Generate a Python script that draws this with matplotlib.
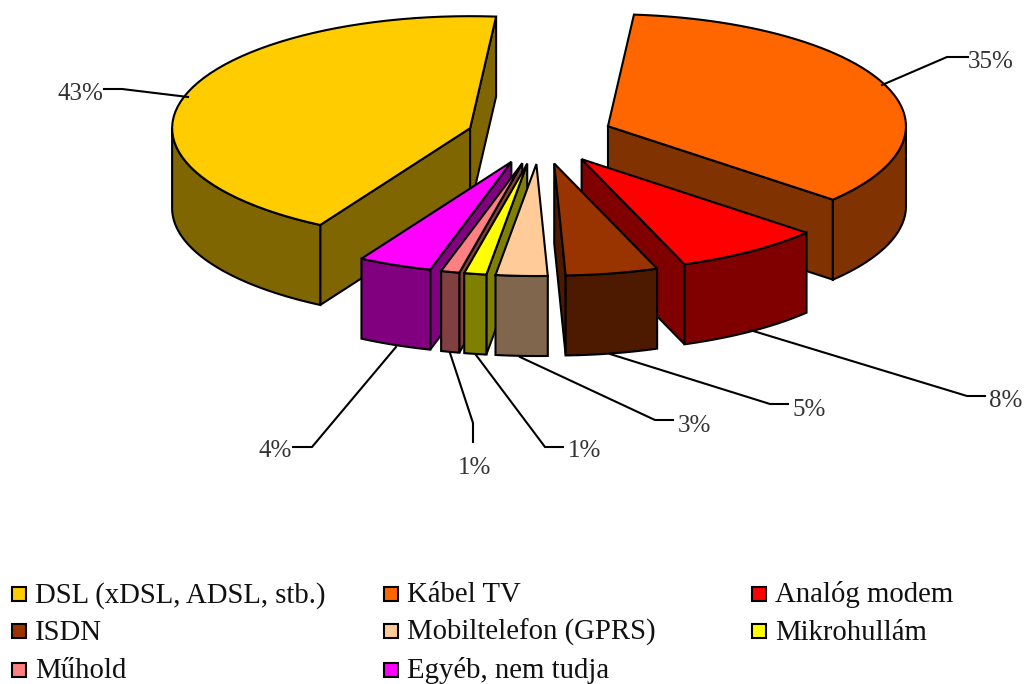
import numpy as np
import matplotlib
matplotlib.use("Agg")
import matplotlib.pyplot as plt
from matplotlib.patches import Polygon, Rectangle

categories = ["DSL (xDSL, ADSL, stb.)", "Kábel TV", "Analóg modem", "ISDN",
              "Mobiltelefon (GPRS)", "Mikrohullám", "Műhold", "Egyéb, nem tudja"]
values = [43, 35, 8, 5, 2.8, 1.2, 1.0, 4]
top_colors = ["#FFCC00", "#FF6600", "#FF0000", "#993300",
              "#FFCC99", "#FFFF00", "#FF8080", "#FF00FF"]
side_colors = ["#806600", "#803300", "#800000", "#4D1A00",
               "#80664D", "#808000", "#804040", "#800080"]

# leader lines, in picture pixels: start, elbow, end
leaders = [
    [(188, 97), (122, 89), (104, 89)],
    [(882, 85), (947, 57), (968, 57)],
    [(750, 330), (967, 396), (985, 396)],
    [(610, 354), (770, 404), (788, 404)],
    [(520, 357), (655, 420), (673, 420)],
    [(476, 355), (545, 447), (563, 447)],
    [(450, 353), (473, 423), (473, 442)],
    [(396, 347), (312, 447), (293, 447)],
]
# label centre x and baseline y
label_pos = [(80, 100), (991, 68), (1006, 407), (809, 416),
             (694, 432), (585, 457), (475, 474), (275, 457)]

CX, CY = 540, 136.5
RX, RY = 298, 112
DEPTH = 80
EXPLODE = 0.246
START = -149.8
LW = 1.5

plt.rcParams['font.family'] = ['Liberation Serif', 'DejaVu Sans']


def pt(t, ox, oy):
    # t is in degrees, clockwise from the top of the pie
    r = np.radians(t)
    return ox + RX * np.sin(r), oy - RY * np.cos(r)


def arc(t0, t1, ox, oy):
    ts = np.linspace(t0, t1, 60)
    return [pt(t, ox, oy) for t in ts]


def shift(points):
    return [(x, y + DEPTH) for x, y in points]


def draw_wedge(ax, t0, t1, top, side):
    mid = np.radians((t0 + t1) / 2)
    ox = CX + EXPLODE * RX * np.sin(mid)
    oy = CY - EXPLODE * RY * np.cos(mid)

    # radial faces, only those turned towards the viewer
    for t, normal in ((t0, t0 - 90), (t1, t1 + 90)):
        if np.cos(np.radians(normal)) < 0:
            edge = [(ox, oy), pt(t, ox, oy)]
            ax.add_patch(Polygon(edge + shift(edge)[::-1], fc=side, ec="black", lw=LW))

    # outer wall, front half of the ellipse only
    for k in range(-1, 2):
        a = max(t0, 90 + 360 * k)
        b = min(t1, 270 + 360 * k)
        if a < b:
            rim = arc(a, b, ox, oy)
            ax.add_patch(Polygon(rim + shift(rim)[::-1], fc=side, ec="black", lw=LW))

    ax.add_patch(Polygon([(ox, oy)] + arc(t0, t1, ox, oy), fc=top, ec="black", lw=LW))


def main():
    fig = plt.figure(figsize=(10.25, 6.84), dpi=100)
    ax = fig.add_axes([0, 0, 1, 1])
    ax.set_xlim(0, 1025)
    ax.set_ylim(684, 0)
    ax.axis("off")

    edges = START + np.cumsum([0] + values) * 3.6
    wedges = list(range(len(values)))
    # back to front: furthest from the bottom of the ellipse first
    wedges.sort(key=lambda i: -abs((edges[i] + edges[i + 1]) / 2 % 360 - 180))
    for i in wedges:
        draw_wedge(ax, edges[i], edges[i + 1], top_colors[i], side_colors[i])

    for i in range(len(values)):
        xs, ys = zip(*leaders[i])
        ax.plot(xs, ys, color="black", lw=LW, solid_joinstyle="miter")
        ax.text(label_pos[i][0], label_pos[i][1], f"{values[i]:.0f}%", fontsize=18,
                color="#333333", ha="center", va="baseline")

    col_x = [12, 384, 752]
    row_y = [594, 631, 670]
    for i, name in enumerate(categories):
        x = col_x[i % 3]
        y = row_y[i // 3]
        ax.add_patch(Rectangle((x, y - 7), 14, 14, fc=top_colors[i], ec="black", lw=LW))
        ax.text(x + 23, y + 8.5, name, fontsize=20.7, color="#111111", ha="left", va="baseline")

    fig.savefig("out.png", dpi=100)


if __name__ == "__main__":
    main()
